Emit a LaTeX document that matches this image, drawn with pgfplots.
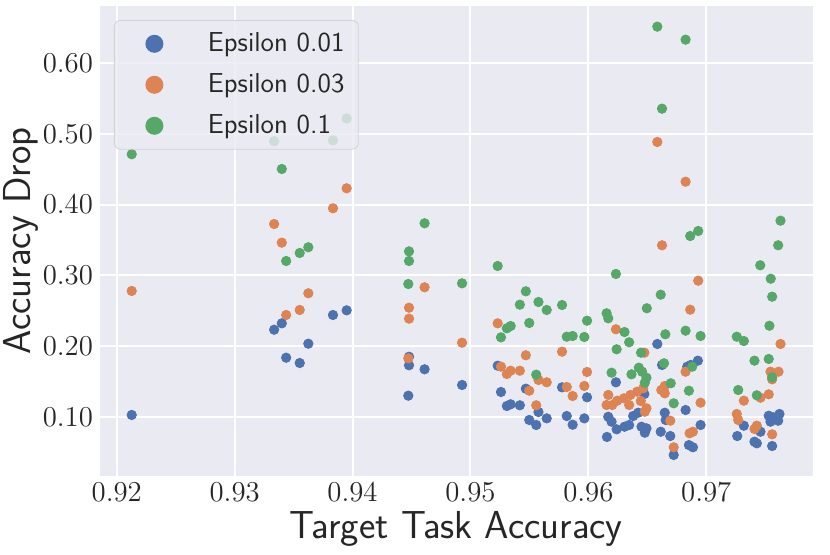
\documentclass[border=0pt]{standalone}
\usepackage{pgfplots}
\pgfplotsset{compat=1.18}
\definecolor{bgc}{HTML}{EAEAF2}
\definecolor{c1}{HTML}{4C72B0}
\definecolor{c2}{HTML}{DD8452}
\definecolor{c3}{HTML}{55A868}
\definecolor{legedge}{HTML}{CCCCCC}
\begin{document}
\begin{tikzpicture}
\begin{axis}[
  scale only axis, width=356.35pt, height=234.85pt,
  xmin=0.91858, xmax=0.97903, ymin=0.0167, ymax=0.681,
  axis background/.style={fill=bgc},
  axis line style={draw=none},
  major tick length=0pt,
  grid=major, grid style={white, line width=1pt},
  scaled ticks=false,
  xtick={0.92,0.93,0.94,0.95,0.96,0.97},
  ytick={0.1,0.2,0.3,0.4,0.5,0.6},
  xticklabel style={/pgf/number format/.cd, fixed, fixed zerofill, precision=2},
  yticklabel style={/pgf/number format/.cd, fixed, fixed zerofill, precision=2},
  tick label style={font=\fontsize{14}{16}\selectfont, text=black!85},
  xlabel={Target Task Accuracy}, ylabel={Accuracy Drop},
  label style={font=\sffamily\fontsize{19.5}{22}\selectfont, text=black!85},
  xlabel style={at={(axis description cs:0.5,0)}, anchor=base, yshift=-31.3pt},
  ylabel style={at={(axis description cs:-0.1108,0.5)}, anchor=center},
  legend cell align=left,
  legend style={at={(axis description cs:0,1)}, anchor=north west, xshift=7pt, yshift=-7pt,
    fill=bgc, fill opacity=0.8, draw opacity=0.8, text opacity=1, draw=legedge,
    rounded corners=3pt, inner xsep=6.9pt, inner ysep=1.45pt, column sep=13.7pt,
    nodes={inner xsep=0pt},
    font=\sffamily\fontsize{13.7}{16}\selectfont, text=black!85},
  legend image code/.code={\path[draw=none,fill=none] (0pt,-10.25pt) rectangle (26.2pt,10.25pt);
    \fill[#1,draw=none,fill opacity=1] (13.1pt,0pt) circle (4.5pt);},
]
\coordinate (sw) at (rel axis cs:0,0);
\coordinate (ne) at (rel axis cs:1,1);
\addplot[only marks, mark=*, mark size=2.35pt, color=c1, mark options={draw=none, fill=c1}] coordinates {
(0.92127,0.1026) (0.93335,0.2232) (0.93400,0.2322) (0.93437,0.1836) (0.93552,0.1761)
(0.93625,0.2034) (0.93834,0.2440) (0.93950,0.2506) (0.94479,0.1850) (0.94479,0.1729)
(0.94473,0.1299) (0.94611,0.1672) (0.94929,0.1450) (0.95231,0.1723) (0.95259,0.1351)
(0.95470,0.1398) (0.95341,0.1177) (0.95309,0.1153) (0.95419,0.1163) (0.95577,0.1068)
(0.95499,0.0955) (0.95558,0.0884) (0.95647,0.0978) (0.95777,0.1417) (0.95989,0.1276)
(0.95817,0.1011) (0.95867,0.0888) (0.95966,0.0978) (0.96234,0.1488) (0.96169,0.1001)
(0.96197,0.0931) (0.96240,0.0823) (0.96158,0.0715) (0.96585,0.2030) (0.96929,0.1794)
(0.96839,0.1709) (0.96868,0.1733) (0.96625,0.1733) (0.96475,0.1322) (0.96825,0.1096)
(0.96648,0.1058) (0.96656,0.0955) (0.96307,0.0860) (0.96346,0.0884) (0.96380,0.1011)
(0.96423,0.1058) (0.96451,0.0860) (0.96493,0.0837) (0.96479,0.0775) (0.96614,0.0789)
(0.96695,0.0728) (0.96724,0.0460) (0.96853,0.0600) (0.96887,0.0569) (0.96952,0.0884)
(0.97319,0.0874) (0.97460,0.0789) (0.97530,0.1015) (0.97621,0.1040) (0.97545,0.0931)
(0.97610,0.0945) (0.97570,0.0993) (0.97559,0.0587) (0.97263,0.0728) (0.97409,0.0648)
(0.97429,0.0625)
};
\addlegendentry{Epsilon 0.01}
\addplot[only marks, mark=*, mark size=2.35pt, color=c2, mark options={draw=none, fill=c2}] coordinates {
(0.92127,0.2780) (0.93335,0.3727) (0.93400,0.3463) (0.93437,0.2440) (0.93552,0.2511)
(0.93625,0.2747) (0.93834,0.3949) (0.93950,0.4232) (0.94479,0.2543) (0.94479,0.2388)
(0.94473,0.1827) (0.94611,0.2832) (0.94929,0.2048) (0.95231,0.2322) (0.95470,0.1870)
(0.95777,0.1921) (0.95259,0.1709) (0.95341,0.1652) (0.95309,0.1605) (0.95419,0.1652)
(0.95577,0.1521) (0.95647,0.1488) (0.95499,0.1369) (0.95558,0.1163) (0.95817,0.1422)
(0.95867,0.1294) (0.95966,0.1436) (0.95989,0.1634) (0.96234,0.2238) (0.96169,0.1309)
(0.96155,0.1167) (0.96203,0.1167) (0.96245,0.1228) (0.96302,0.1262) (0.96357,0.1309)
(0.96414,0.1355) (0.96465,0.1403) (0.96346,0.1167) (0.96445,0.1223) (0.96493,0.1120)
(0.96479,0.1072) (0.96475,0.1907) (0.96625,0.3426) (0.96585,0.4887) (0.96825,0.4325)
(0.96932,0.2925) (0.96864,0.2515) (0.96825,0.1638) (0.96648,0.1436) (0.96619,0.1379)
(0.96648,0.1332) (0.96952,0.1200) (0.96695,0.0945) (0.96724,0.0569) (0.96859,0.0767)
(0.96887,0.0789) (0.97630,0.2030) (0.97545,0.1638) (0.97613,0.1638) (0.97559,0.1530)
(0.97319,0.1228) (0.97460,0.1270) (0.97530,0.1318) (0.97259,0.1040) (0.97271,0.0955)
(0.97409,0.0828) (0.97429,0.0874) (0.97559,0.0752)
};
\addlegendentry{Epsilon 0.03}
\addplot[only marks, mark=*, mark size=2.35pt, color=c3, mark options={draw=none, fill=c3}] coordinates {
(0.92127,0.4713) (0.93335,0.4897) (0.93834,0.4910) (0.93950,0.5220) (0.93400,0.4505)
(0.94611,0.3737) (0.93625,0.3398) (0.93552,0.3317) (0.93437,0.3204) (0.94479,0.3340)
(0.94479,0.3204) (0.94473,0.2878) (0.95231,0.3133) (0.94929,0.2888) (0.95470,0.2775)
(0.95419,0.2586) (0.95577,0.2624) (0.95647,0.2511) (0.95777,0.2581) (0.95499,0.2327)
(0.95341,0.2284) (0.95309,0.2252) (0.95259,0.2124) (0.95817,0.2133) (0.95867,0.2143)
(0.95966,0.2129) (0.95989,0.2359) (0.96155,0.2464) (0.96169,0.2393) (0.96234,0.3020)
(0.96240,0.1955) (0.95558,0.1596) (0.96197,0.1624) (0.96307,0.2199) (0.96346,0.2054)
(0.96653,0.2167) (0.96825,0.2218) (0.96952,0.2143) (0.96614,0.2727) (0.96496,0.2535)
(0.96864,0.3557) (0.96932,0.3628) (0.96585,0.6518) (0.96825,0.6334) (0.96625,0.5358)
(0.96447,0.1907) (0.96881,0.1709) (0.96642,0.1757) (0.96366,0.1601) (0.96428,0.1695)
(0.96456,0.1638) (0.96493,0.1553) (0.96479,0.1482) (0.96699,0.1474) (0.96853,0.1369)
(0.96724,0.1191) (0.97630,0.3774) (0.97610,0.3426) (0.97458,0.3143) (0.97547,0.2953)
(0.97559,0.2699) (0.97536,0.2288) (0.97259,0.2133) (0.97319,0.2072) (0.97409,0.1794)
(0.97530,0.1818) (0.97559,0.1559) (0.97271,0.1379) (0.97429,0.1304)
};
\addlegendentry{Epsilon 0.1}
\end{axis}
\pgfresetboundingbox
\path[use as bounding box] ([xshift=-50pt,yshift=-39.15pt]sw) rectangle ([xshift=8.65pt,yshift=3pt]ne);
\end{tikzpicture}
\end{document}
